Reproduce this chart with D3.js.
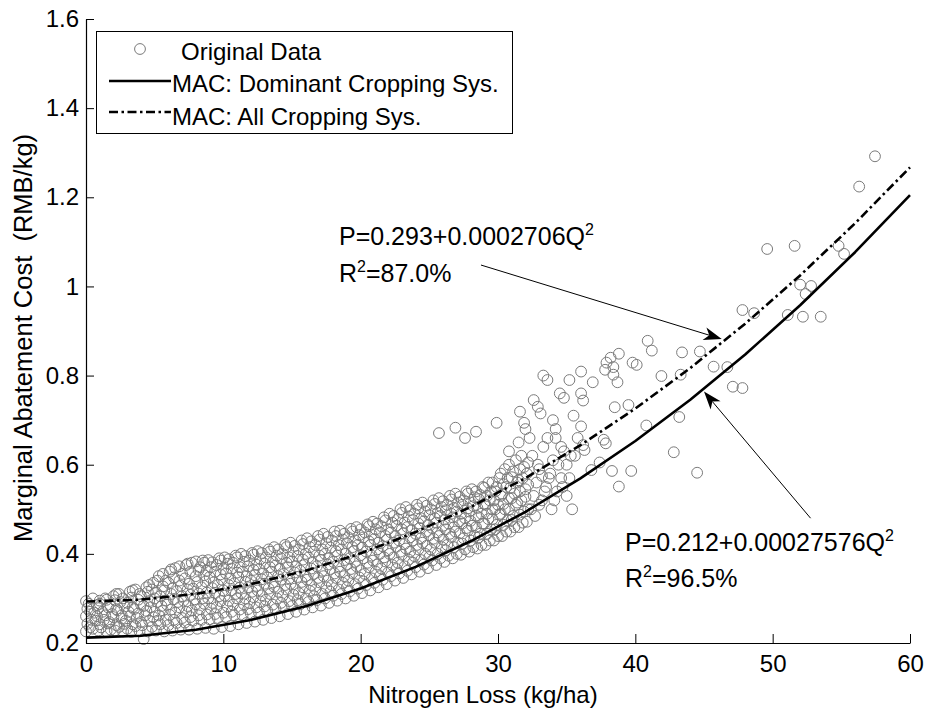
<!DOCTYPE html>
<html><head><meta charset="utf-8">
<script src="https://cdn.jsdelivr.net/npm/d3@7"></script>
<style>body{margin:0;background:#fff}svg{display:block}</style>
</head><body>
<script>
// ---------- DATA ----------
const xTicks = [0,10,20,30,40,50,60];
const yTicks = [0.2,0.4,0.6,0.8,1.0,1.2,1.4,1.6];
const yTickLabels = ["0.2","0.4","0.6","0.8","1","1.2","1.4","1.6"];
const legendLabels = ["Original Data","MAC: Dominant Cropping Sys.","MAC: All Cropping Sys."];

const bandA = [
[0.0,.226],[0.1,.243],[0.0,.26],[0.1,.277],[0.0,.294],
[0.5,.232],[0.7,.25],[0.6,.268],[0.8,.285],[0.5,.30],
[1.1,.235],[1.3,.252],[1.2,.27],[1.0,.288],[1.4,.30],
[1.8,.23],[1.7,.247],[1.9,.265],[1.8,.282],[2.0,.305],
[2.4,.236],[2.6,.255],[2.3,.273],[2.5,.292],[2.4,.31],
[3.0,.232],[2.9,.25],[3.1,.27],[3.0,.29],[3.2,.315],
[3.6,.238],[3.7,.256],[3.5,.276],[3.8,.297],[3.6,.32],
[4.2,.209],[4.1,.24],[4.3,.262],[4.2,.283],[4.0,.305],[4.4,.325],
[4.8,.236],[4.9,.258],[4.7,.28],[5.0,.30],[4.8,.32],[4.9,.335],
[5.4,.242],[5.3,.262],[5.5,.283],[5.4,.305],[5.6,.327],[5.3,.35],
[6.0,.24],[6.1,.263],[5.9,.286],[6.2,.31],[6.0,.335],[6.1,.36],
[6.6,.245],[6.5,.268],[6.7,.292],[6.6,.316],[6.8,.34],[6.5,.368],
[7.2,.246],[7.3,.27],[7.1,.295],[7.4,.32],[7.2,.345],[7.3,.375],
[7.8,.25],[7.7,.273],[7.9,.298],[7.8,.322],[8.0,.35],[7.7,.38]
];
const fillA = [
[0.3,.235],[0.4,.252],[0.3,.27],[0.2,.288],
[0.9,.228],[1.0,.242],[0.8,.26],[0.9,.278],[1.0,.295],
[1.5,.226],[1.6,.244],[1.4,.262],[1.6,.28],[1.5,.297],
[2.1,.228],[2.2,.24],[2.0,.258],[2.2,.276],[2.1,.296],[2.2,.31],
[2.7,.226],[2.8,.243],[2.6,.262],[2.8,.282],[2.7,.30],
[3.3,.225],[3.4,.242],[3.2,.26],[3.4,.28],[3.3,.302],[3.4,.318],
[3.9,.226],[4.0,.247],[3.8,.266],[4.0,.287],[3.9,.31],
[4.5,.226],[4.6,.25],[4.4,.272],[4.6,.294],[4.5,.315],[4.6,.33],
[5.1,.228],[5.2,.25],[5.0,.27],[5.2,.292],[5.1,.313],[5.2,.34],
[5.7,.226],[5.8,.252],[5.6,.273],[5.8,.295],[5.7,.318],[5.8,.34],[5.6,.355],
[6.3,.228],[6.4,.252],[6.2,.275],[6.4,.298],[6.3,.322],[6.4,.347],[6.2,.365],
[6.9,.23],[7.0,.256],[6.8,.28],[7.0,.305],[6.9,.328],[7.0,.355],[6.8,.372],
[7.5,.23],[7.6,.258],[7.4,.283],[7.6,.308],[7.5,.333],[7.6,.36],[7.4,.378],
[8.1,.232],[8.2,.262],[8.0,.287],[8.2,.311],[8.1,.337],[8.2,.364],[8.0,.383]
];
const bandB = [
[8.4,.252],[8.3,.276],[8.5,.30],[8.4,.325],[8.6,.352],[8.3,.37],[8.5,.385],
[9.0,.253],[9.1,.277],[8.9,.30],[9.2,.323],[9.0,.348],[9.1,.37],[8.9,.386],
[9.6,.256],[9.5,.28],[9.7,.305],[9.6,.33],[9.8,.354],[9.5,.375],[9.7,.39],
[10.2,.258],[10.3,.282],[10.1,.306],[10.4,.33],[10.2,.356],[10.3,.378],[10.1,.392],
[10.8,.262],[10.7,.286],[10.9,.31],[10.8,.334],[11.0,.358],[10.7,.38],[10.9,.396],
[11.4,.262],[11.5,.287],[11.3,.312],[11.6,.337],[11.4,.36],[11.5,.382],[11.3,.40],
[12.0,.266],[11.9,.29],[12.1,.315],[12.0,.34],[12.2,.364],[11.9,.385],[12.1,.402],
[12.6,.268],[12.7,.293],[12.5,.318],[12.8,.343],[12.6,.366],[12.7,.388],[12.5,.406],
[13.2,.272],[13.1,.297],[13.3,.322],[13.2,.347],[13.4,.37],[13.1,.392],[13.3,.41],
[13.8,.276],[13.9,.30],[13.7,.326],[14.0,.35],[13.8,.374],[13.9,.396],[13.7,.415],
[14.4,.28],[14.3,.305],[14.5,.33],[14.4,.355],[14.6,.38],[14.3,.40],[14.5,.42],
[15.0,.283],[15.1,.308],[14.9,.333],[15.2,.358],[15.0,.383],[15.1,.405],[14.9,.425],
[15.6,.287],[15.5,.312],[15.7,.337],[15.6,.362],[15.8,.387],[15.5,.41],[15.7,.43]
];
const fillB = [
[8.7,.234],[8.8,.264],[8.6,.288],[8.8,.313],[8.7,.338],[8.8,.362],[8.6,.38],
[9.3,.232],[9.4,.265],[9.2,.29],[9.4,.312],[9.3,.336],[9.4,.36],[9.2,.381],
[9.9,.236],[10.0,.268],[9.8,.294],[10.0,.318],[9.9,.342],[10.0,.366],[9.8,.385],
[10.5,.238],[10.6,.27],[10.4,.295],[10.6,.318],[10.5,.345],[10.6,.367],[10.4,.388],
[11.1,.242],[11.2,.275],[11.0,.30],[11.2,.324],[11.1,.348],[11.2,.37],[11.0,.392],
[11.7,.245],[11.8,.276],[11.6,.30],[11.8,.325],[11.7,.35],[11.8,.372],[11.6,.395],
[12.3,.248],[12.4,.28],[12.2,.303],[12.4,.328],[12.3,.352],[12.4,.376],[12.2,.398],
[12.9,.252],[13.0,.282],[12.8,.307],[13.0,.333],[12.9,.356],[13.0,.378],[12.8,.402],
[13.5,.256],[13.6,.286],[13.4,.31],[13.6,.336],[13.5,.36],[13.6,.382],[13.4,.405],
[14.1,.26],[14.2,.29],[14.0,.315],[14.2,.342],[14.1,.366],[14.2,.39],[14.0,.41],
[14.7,.265],[14.8,.294],[14.6,.32],[14.8,.345],[14.7,.37],[14.8,.392],[14.6,.415],
[15.3,.27],[15.4,.296],[15.2,.322],[15.4,.348],[15.3,.372],[15.4,.395],[15.2,.418],
[15.9,.275],[16.0,.30],[15.8,.325],[16.0,.35],[15.9,.375],[16.0,.40],[15.8,.422]
];
const bandC = [
[16.2,.292],[16.3,.317],[16.1,.342],[16.4,.367],[16.2,.392],[16.3,.415],[16.1,.435],
[16.8,.296],[16.7,.32],[16.9,.346],[16.8,.372],[17.0,.396],[16.7,.42],[16.9,.44],
[17.4,.30],[17.5,.325],[17.3,.35],[17.6,.376],[17.4,.40],[17.5,.424],[17.3,.445],
[18.0,.306],[17.9,.33],[18.1,.356],[18.0,.382],[18.2,.406],[17.9,.43],[18.1,.45],
[18.6,.31],[18.7,.335],[18.5,.36],[18.8,.386],[18.6,.41],[18.7,.432],[18.5,.452],
[19.2,.316],[19.1,.34],[19.3,.366],[19.2,.39],[19.4,.415],[19.1,.437],[19.3,.456],
[19.8,.322],[19.9,.347],[19.7,.372],[20.0,.397],[19.8,.42],[19.9,.442],[19.7,.46],
[20.4,.33],[20.3,.355],[20.5,.38],[20.4,.405],[20.6,.428],[20.3,.448],[20.5,.466],
[21.0,.335],[21.1,.36],[20.9,.385],[21.2,.41],[21.0,.433],[21.1,.455],[20.9,.472],
[21.6,.342],[21.5,.367],[21.7,.392],[21.6,.417],[21.8,.44],[21.5,.462],[21.7,.482],
[22.2,.35],[22.3,.375],[22.1,.40],[22.4,.425],[22.2,.448],[22.3,.47],[22.1,.49],
[22.8,.356],[22.7,.38],[22.9,.405],[22.8,.43],[23.0,.455],[22.7,.478],[22.9,.50],
[23.4,.362],[23.5,.387],[23.3,.412],[23.6,.437],[23.4,.46],[23.5,.484],[23.3,.505]
];
const fillC = [
[16.5,.28],[16.6,.305],[16.4,.33],[16.6,.355],[16.5,.38],[16.6,.405],[16.4,.428],
[17.1,.284],[17.2,.31],[17.0,.336],[17.2,.362],[17.1,.386],[17.2,.41],[17.0,.432],
[17.7,.29],[17.8,.315],[17.6,.34],[17.8,.366],[17.7,.39],[17.8,.414],[17.6,.438],
[18.3,.295],[18.4,.32],[18.2,.346],[18.4,.372],[18.3,.396],[18.4,.42],[18.2,.44],
[18.9,.30],[19.0,.325],[18.8,.35],[19.0,.376],[18.9,.40],[19.0,.424],[18.8,.445],
[19.5,.306],[19.6,.332],[19.4,.357],[19.6,.382],[19.5,.406],[19.6,.43],[19.4,.45],
[20.1,.312],[20.2,.338],[20.0,.363],[20.2,.39],[20.1,.414],[20.2,.437],[20.0,.455],
[20.7,.318],[20.8,.345],[20.6,.37],[20.8,.396],[20.7,.42],[20.8,.443],[20.6,.462],
[21.3,.325],[21.4,.35],[21.2,.376],[21.4,.40],[21.3,.425],[21.4,.448],[21.2,.468],
[21.9,.332],[22.0,.358],[21.8,.383],[22.0,.408],[21.9,.432],[22.0,.455],[21.8,.475],
[22.5,.34],[22.6,.366],[22.4,.392],[22.6,.416],[22.5,.44],[22.6,.463],[22.4,.485],
[23.1,.346],[23.2,.372],[23.0,.398],[23.2,.422],[23.1,.446],[23.2,.47],[23.0,.492],
[23.7,.354],[23.8,.38],[23.6,.405],[23.8,.43],[23.7,.453],[23.8,.476],[23.6,.498]
];
const bandD = [
[24.0,.37],[23.9,.395],[24.1,.42],[24.0,.445],[24.2,.468],[23.9,.49],[24.1,.51],
[24.6,.376],[24.7,.40],[24.5,.425],[24.8,.45],[24.6,.473],[24.7,.495],[24.5,.515],
[25.2,.385],[25.1,.41],[25.3,.434],[25.2,.458],[25.4,.48],[25.1,.50],[25.3,.52],
[25.8,.39],[25.9,.415],[25.7,.44],[26.0,.463],[25.8,.485],[25.9,.505],[25.7,.525],
[26.4,.396],[26.3,.42],[26.5,.445],[26.4,.468],[26.6,.49],[26.3,.51],[26.5,.53],
[27.0,.40],[27.1,.425],[26.9,.45],[27.2,.473],[27.0,.495],[27.1,.515],[26.9,.535],
[27.6,.41],[27.5,.435],[27.7,.458],[27.6,.48],[27.8,.502],[27.5,.52],[27.7,.54],
[28.2,.415],[28.3,.44],[28.1,.463],[28.4,.486],[28.2,.507],[28.3,.527],[28.1,.545],
[28.8,.42],[28.7,.445],[28.9,.468],[28.8,.49],[29.0,.512],[28.7,.532],[28.9,.55],
[29.4,.43],[29.5,.455],[29.3,.478],[29.6,.50],[29.4,.52],[29.5,.54],[29.3,.56],
[30.0,.44],[29.9,.465],[30.1,.488],[30.0,.51],[30.2,.53],[29.9,.55],[30.1,.57],
[30.6,.45],[30.7,.475],[30.5,.50],[30.8,.525],[30.6,.55],[30.7,.57],[30.5,.59],
[31.2,.46],[31.1,.485],[31.3,.51],[31.2,.535],[31.4,.56],[31.1,.585],[31.3,.61],
[31.8,.47],[31.9,.495],[31.7,.52],[32.0,.545],[31.8,.57],[31.9,.595],[31.7,.62]
];
const fillD = [
[24.3,.36],[24.4,.386],[24.2,.41],[24.4,.435],[24.3,.458],[24.4,.48],[24.2,.502],
[24.9,.368],[25.0,.393],[24.8,.418],[25.0,.442],[24.9,.465],[25.0,.487],[24.8,.508],
[25.5,.375],[25.6,.40],[25.4,.425],[25.6,.448],[25.5,.47],[25.6,.492],[25.4,.512],
[26.1,.382],[26.2,.408],[26.0,.432],[26.2,.455],[26.1,.477],[26.2,.498],[26.0,.518],
[26.7,.39],[26.8,.415],[26.6,.438],[26.8,.46],[26.7,.482],[26.8,.503],[26.6,.522],
[27.3,.398],[27.4,.423],[27.2,.446],[27.4,.468],[27.3,.49],[27.4,.51],[27.2,.528],
[27.9,.405],[28.0,.43],[27.8,.452],[28.0,.474],[27.9,.495],[28.0,.515],[27.8,.535],
[28.5,.412],[28.6,.437],[28.4,.46],[28.6,.482],[28.5,.503],[28.6,.523],[28.4,.54],
[29.1,.42],[29.2,.445],[29.0,.468],[29.2,.49],[29.1,.51],[29.2,.53],[29.0,.548],
[29.7,.43],[29.8,.455],[29.6,.478],[29.8,.50],[29.7,.52],[29.8,.54],[29.6,.56],
[30.3,.44],[30.4,.465],[30.2,.49],[30.4,.512],[30.3,.535],[30.4,.556],[30.2,.58],
[30.9,.45],[31.0,.476],[30.8,.50],[31.0,.525],[30.9,.548],[31.0,.572],[30.8,.60],
[31.5,.46],[31.6,.488],[31.4,.515],[31.6,.54],[31.5,.565],[31.6,.59],
[32.1,.472],[32.2,.50],[32.0,.528],[32.2,.555],[32.1,.58],[32.2,.605]
];
const scatterMid = [
[25.7,.671],[26.9,.683],[27.6,.660],[28.4,.674],[29.9,.694],[31.6,.719],[31.9,.694],
[30.8,.63],[31.5,.65],[32.0,.68],
[32.4,.50],[32.6,.53],[32.8,.56],[33.0,.59],[32.5,.62],[33.2,.52],[33.5,.55],[33.8,.58],
[34.0,.61],[33.3,.64],[34.3,.54],[34.6,.57],[34.2,.66],[35.0,.60],[35.4,.50],[35.2,.57],
[34.8,.63],[32.6,.745],[32.9,.73],[33.3,.80],[33.6,.79],[33.1,.715],[34.0,.70],[34.5,.76],
[34.8,.75],[35.2,.79],[35.5,.71],[34.2,.68],[32.3,.66],[33.6,.66],[35.8,.66],[35.6,.62],
[32.7,.485],[33.0,.51],[33.4,.54],[33.7,.57],[34.1,.52],[34.4,.60],[34.7,.55],[35.0,.53],
[35.3,.62],[33.9,.50],[34.6,.64],[32.9,.60],[33.2,.575]
];
const scatterHigh = [
[36.05,.809],[36.05,.760],[36.2,.744],[36.05,.686],[36.2,.644],[36.3,.633],[36.8,.588],
[36.9,.785],[37.4,.605],[37.7,.656],[37.85,.648],[37.8,.813],[37.9,.829],[38.2,.84],
[38.3,.586],[38.4,.819],[38.4,.802],[38.5,.729],[38.7,.785],[38.8,.849],[38.8,.551],
[39.5,.734],[39.7,.586],[39.8,.829],[40.1,.824],[40.8,.688],[40.9,.878],[41.2,.856],
[41.9,.799],[42.8,.628],[43.2,.707],[43.3,.802],[43.4,.852],[44.5,.582],[44.7,.854],
[45.7,.820],[46.7,.819],[47.1,.775],[47.8,.772],[47.8,.947],[48.65,.940],
[49.6,1.084],[51.1,.936],[51.6,1.091],[52.0,1.004],[52.2,.932],[52.4,.983],[52.8,1.001],
[53.5,.932],[54.8,1.091],[55.2,1.073],[56.3,1.224],[57.45,1.292]
];

// fitted curves (values read at sample abscissae)
const curveX   = [0,4,8,12,16,20,24,28,32,36,40,44,48,52,56,60];
const domY     = [0.212,0.2164,0.2297,0.2517,0.2826,0.3223,0.3708,0.4282,0.4944,0.5694,0.6532,0.7459,0.8474,0.9577,1.0768,1.2047];
const allY     = [0.293,0.2973,0.3103,0.3320,0.3623,0.4012,0.4489,0.5051,0.5701,0.6437,0.7260,0.8169,0.9165,1.0247,1.1416,1.2672];

// annotations (data coordinates)
const ann1Text = ["P=0.293+0.0002706Q","2","R","2","=87.0%"];
const ann2Text = ["P=0.212+0.00027576Q","2","R","2","=96.5%"];
const ann1Pos = [18.42,1.093,1.010];
const ann2Pos = [39.25,0.406,0.326];
const arrow1 = [28.76,1.048,46.29,0.882];
const arrow2 = [52.76,0.480,45.0,0.764];

// ---------- DRAW ----------
const W=928,H=711;
const FONT='"Liberation Sans", Arial, Helvetica, sans-serif';
const svg=d3.select("body").append("svg").attr("width",W).attr("height",H)
  .style("font-family",FONT);
svg.append("rect").attr("width",W).attr("height",H).attr("fill","#fff");

const x=d3.scaleLinear().domain([0,60]).range([86,910]);
const y=d3.scaleLinear().domain([0.2,1.6]).range([643,19]);

// points
const allPts=[...bandA,...fillA,...bandB,...fillB,...bandC,...fillC,...bandD,...fillD,...scatterMid,...scatterHigh];
svg.append("g").selectAll("circle").data(allPts).join("circle")
  .attr("cx",d=>x(d[0])).attr("cy",d=>y(d[1])).attr("r",5.4)
  .attr("fill","none").attr("stroke","#7a7a7a").attr("stroke-width",1);

// curves
const line=d3.line().x(d=>x(d[0])).y(d=>y(d[1]));
svg.append("path").datum(curveX.map((v,i)=>[v,domY[i]])).attr("d",line)
  .attr("fill","none").attr("stroke","#000").attr("stroke-width",2.6).attr("stroke-linejoin","round");
svg.append("path").datum(curveX.map((v,i)=>[v,allY[i]])).attr("d",line)
  .attr("fill","none").attr("stroke","#000").attr("stroke-width",2.6)
  .attr("stroke-dasharray","9,3.5,2.5,3.5");

// axes
const ax=svg.append("g").attr("transform",`translate(0,${y(0.2)})`)
  .call(d3.axisBottom(x).tickValues(xTicks).tickSizeInner(-9).tickSizeOuter(0).tickPadding(12).tickFormat(d3.format("d")));
const ay=svg.append("g").attr("transform",`translate(${x(0)},0)`)
  .call(d3.axisLeft(y).tickValues(yTicks).tickSizeInner(-8).tickSizeOuter(0).tickPadding(7).tickFormat((d,i)=>yTickLabels[i]));
[ax,ay].forEach(g=>{
  g.selectAll("text").attr("font-size",24).attr("font-family",FONT).attr("fill","#000");
  g.select(".domain").attr("stroke","#000").attr("stroke-width",1.2);
  g.selectAll(".tick line").attr("stroke","#000");
});

// axis titles
svg.append("text").attr("x",483).attr("y",703).attr("text-anchor","middle")
  .attr("font-size",24).text("Nitrogen Loss (kg/ha)");
svg.append("text").attr("transform","translate(32,338) rotate(-90)").attr("text-anchor","middle")
  .attr("font-size",25.5).text("Marginal Abatement Cost  (RMB/kg)").style("white-space","pre");

// arrows
function arrow(a){
  const x1=x(a[0]),y1=y(a[1]),x2=x(a[2]),y2=y(a[3]);
  const dx=x2-x1,dy=y2-y1,len=Math.hypot(dx,dy),ux=dx/len,uy=dy/len,nx=-uy,ny=ux;
  const L=18,Wd=6.5,N=5;
  svg.append("line").attr("x1",x1).attr("y1",y1).attr("x2",x2-(L-N)*ux).attr("y2",y2-(L-N)*uy)
    .attr("stroke","#000").attr("stroke-width",1);
  const p=[[x2,y2],[x2-L*ux+Wd*nx,y2-L*uy+Wd*ny],[x2-(L-N)*ux,y2-(L-N)*uy],[x2-L*ux-Wd*nx,y2-L*uy-Wd*ny]];
  svg.append("path").attr("d","M"+p.map(q=>q.join(",")).join("L")+"Z").attr("fill","#000");
}
arrow(arrow1); arrow(arrow2);

// annotation texts
function ann(t,pos){
  const t1=svg.append("text").attr("x",x(pos[0])).attr("y",y(pos[1])).attr("font-size",25);
  t1.append("tspan").text(t[0]);
  t1.append("tspan").attr("font-size",16).attr("dy",-10).text(t[1]);
  const t2=svg.append("text").attr("x",x(pos[0])).attr("y",y(pos[2])).attr("font-size",25);
  t2.append("tspan").text(t[2]);
  t2.append("tspan").attr("font-size",16).attr("dy",-10).text(t[3]);
  t2.append("tspan").attr("dy",10).text(t[4]);
}
ann(ann1Text,ann1Pos); ann(ann2Text,ann2Pos);

// legend
const lg=svg.append("g");
lg.append("rect").attr("x",96.5).attr("y",31.5).attr("width",416).attr("height",102)
  .attr("fill","#fff").attr("stroke","#000").attr("stroke-width",1);
lg.append("circle").attr("cx",140).attr("cy",49).attr("r",5.4).attr("fill","none").attr("stroke","#7a7a7a");
lg.append("line").attr("x1",109).attr("x2",171).attr("y1",81).attr("y2",81).attr("stroke","#000").attr("stroke-width",2.6);
lg.append("line").attr("x1",109).attr("x2",171).attr("y1",112).attr("y2",112).attr("stroke","#000").attr("stroke-width",2.6)
  .attr("stroke-dasharray","9,3.5,2.5,3.5");
lg.append("text").attr("x",181).attr("y",60).attr("font-size",24).text(legendLabels[0]);
lg.append("text").attr("x",172).attr("y",92).attr("font-size",24).text(legendLabels[1]);
lg.append("text").attr("x",172).attr("y",124.5).attr("font-size",24).text(legendLabels[2]);
</script>
</body></html>
